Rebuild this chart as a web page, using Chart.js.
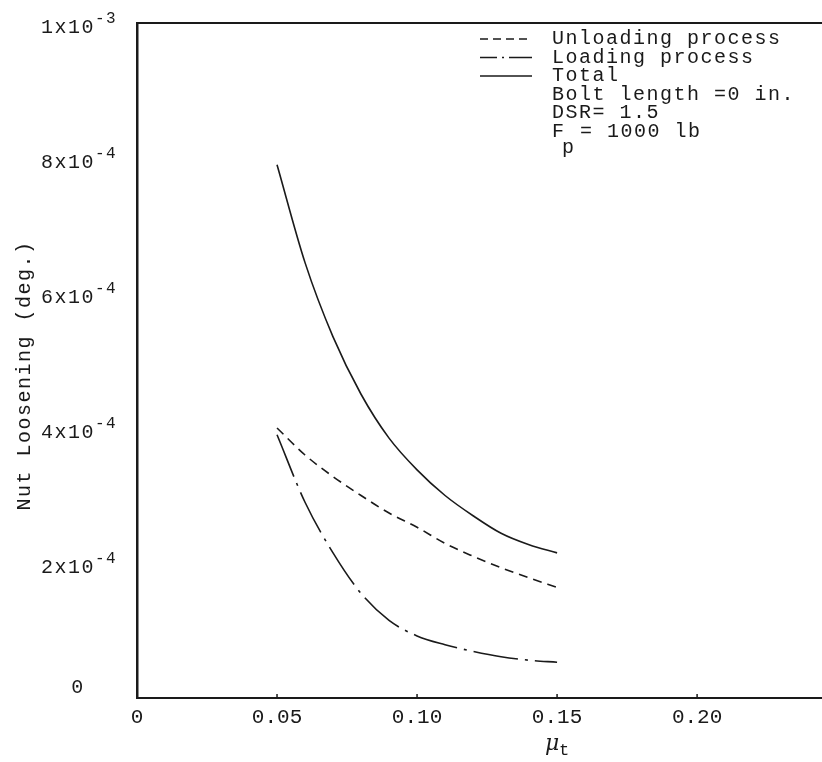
<!DOCTYPE html>
<html>
<head>
<meta charset="utf-8">
<script src="https://cdn.jsdelivr.net/npm/chart.js@4"></script>
<style>
  body { margin: 0; background: #fff; }
  canvas { display: block; }
</style>
</head>
<body>
<canvas id="myChart" width="822" height="762"></canvas>
<script>
// friction coefficient mu_t
const muValues = [0.05, 0.06, 0.07, 0.08, 0.09, 0.10, 0.11, 0.12, 0.13, 0.14, 0.15];
// nut loosening (deg.)
const unloading = [4.0e-4, 3.6e-4, 3.28e-4, 3.0e-4, 2.74e-4, 2.53e-4, 2.29e-4, 2.1e-4, 1.93e-4, 1.78e-4, 1.64e-4];
const loading = [3.9e-4, 2.9e-4, 2.15e-4, 1.55e-4, 1.15e-4, 0.92e-4, 0.79e-4, 0.69e-4, 0.61e-4, 0.56e-4, 0.53e-4];
const total = [7.9e-4, 6.45e-4, 5.35e-4, 4.5e-4, 3.85e-4, 3.38e-4, 3.0e-4, 2.7e-4, 2.44e-4, 2.27e-4, 2.15e-4];

const xTicks = [0, 0.05, 0.10, 0.15, 0.20];
const xTickLabels = ['0', '0.05', '0.10', '0.15', '0.20'];
const yTicks = [0, 2e-4, 4e-4, 6e-4, 8e-4, 1e-3];
const yTickBase = ['0', '2x10', '4x10', '6x10', '8x10', '1x10'];
const yTickExp = ['', '-4', '-4', '-4', '-4', '-3'];

const yTitle = 'Nut Loosening (deg.)';
const notes = ['Bolt length =0 in.', 'DSR= 1.5'];

const INK = '#1a1a1a';
const MONO = '"Liberation Mono", "DejaVu Sans Mono", monospace';

function pts(ys) {
    return muValues.map((m, i) => ({ x: m, y: ys[i] }));
}

// frame top, y tick labels with raised exponents, legend box, axis titles
const paperPlugin = {
    id: 'paper',
    afterDraw(chart) {
        const ctx = chart.ctx;
        const ys = chart.scales.y;
        const xs = chart.scales.x;
        const area = chart.chartArea;
        ctx.save();
        ctx.fillStyle = INK;
        ctx.strokeStyle = INK;
        ctx.letterSpacing = '1.5px';
        ctx.textBaseline = 'middle';
        ctx.textAlign = 'left';

        // top frame line
        ctx.lineWidth = 2;
        ctx.beginPath();
        ctx.moveTo(area.left, area.top);
        ctx.lineTo(area.right, area.top);
        ctx.stroke();

        // small inward ticks on x axis
        ctx.lineWidth = 1.5;
        xTicks.slice(1).forEach(v => {
            const px = xs.getPixelForValue(v);
            ctx.beginPath();
            ctx.moveTo(px, area.bottom);
            ctx.lineTo(px, area.bottom - 4);
            ctx.stroke();
        });

        // y tick labels
        yTicks.forEach((v, i) => {
            const py = ys.getPixelForValue(v);
            ctx.font = '20px ' + MONO;
            if (v === 0) {
                ctx.textAlign = 'center';
                ctx.fillText(yTickBase[i], 78, py - 10);
                ctx.textAlign = 'left';
                return;
            }
            const wb = ctx.measureText(yTickBase[i]).width;
            ctx.font = '16px ' + MONO;
            const we = ctx.measureText(yTickExp[i]).width;
            const x0 = 79 - (wb + we) / 2;
            ctx.font = '20px ' + MONO;
            ctx.fillText(yTickBase[i], x0, py + 5);
            ctx.font = '16px ' + MONO;
            ctx.fillText(yTickExp[i], x0 + wb, py - 4);
        });

        // y axis title
        ctx.save();
        ctx.font = '20px ' + MONO;
        ctx.translate(25, (area.top + area.bottom) / 2 + 15);
        ctx.rotate(-Math.PI / 2);
        ctx.textAlign = 'center';
        ctx.fillText(yTitle, 0, 0);
        ctx.restore();

        // legend
        ctx.font = '20px ' + MONO;
        const lx = 480, tx = 552;
        let ly = 39;
        chart.data.datasets.forEach(ds => {
            ctx.lineWidth = 1.5;
            ctx.setLineDash(ds.legendDash || []);
            ctx.beginPath();
            ctx.moveTo(lx, ly);
            ctx.lineTo(lx + 52, ly);
            ctx.stroke();
            ctx.setLineDash([]);
            ctx.fillText(ds.label, tx, ly);
            ly += 18.5;
        });
        notes.forEach(n => {
            ctx.fillText(n, tx, ly);
            ly += 18.5;
        });
        ctx.fillText('F', tx, ly);
        ctx.fillText('= 1000 lb', tx + 28, ly);
        ctx.fillText('p', tx + 10, ly + 16);

        // x axis title
        const mx = xs.getPixelForValue(0.15) - 12;
        ctx.letterSpacing = '0px';
        ctx.font = 'italic 22px "DejaVu Serif", serif';
        ctx.fillText('\u03bc', mx, 744);
        ctx.font = '17px ' + MONO;
        ctx.fillText('t', mx + 14, 750);
        ctx.restore();
    }
};

const ctx = document.getElementById('myChart').getContext('2d');
const myChart = new Chart(ctx, {
    type: 'line',
    data: {
        datasets: [
            {
                label: 'Unloading process',
                data: pts(unloading),
                borderColor: INK,
                borderWidth: 1.6,
                borderDash: [9, 6],
                legendDash: [8, 5],
                pointRadius: 0,
                cubicInterpolationMode: 'monotone'
            },
            {
                label: 'Loading process',
                data: pts(loading),
                borderColor: INK,
                borderWidth: 1.6,
                borderDash: [45, 7, 3, 7],
                legendDash: [17, 5, 2, 5, 30],
                pointRadius: 0,
                cubicInterpolationMode: 'monotone'
            },
            {
                label: 'Total',
                data: pts(total),
                borderColor: INK,
                borderWidth: 1.6,
                pointRadius: 0,
                cubicInterpolationMode: 'monotone'
            }
        ]
    },
    options: {
        responsive: false,
        animation: false,
        events: [],
        layout: { padding: { top: 23, right: 0, left: 0, bottom: 0 } },
        plugins: {
            legend: { display: false },
            tooltip: { enabled: false }
        },
        scales: {
            x: {
                type: 'linear',
                min: 0,
                max: 0.2446,
                afterBuildTicks: s => { s.ticks = xTicks.map(v => ({ value: v })); },
                afterFit: s => { s.height = 64; },
                grid: { display: false, drawTicks: false },
                border: { display: true, color: INK, width: 2 },
                ticks: {
                    color: INK,
                    padding: 7,
                    maxRotation: 0,
                    font: { family: MONO, size: 21 },
                    callback: (v, i) => xTickLabels[i]
                }
            },
            y: {
                type: 'linear',
                min: 0,
                max: 0.001,
                afterBuildTicks: s => { s.ticks = yTicks.map(v => ({ value: v })); },
                afterFit: s => { s.width = 137; },
                grid: { display: false, drawTicks: false },
                border: { display: true, color: INK, width: 2.5 },
                ticks: { display: false }
            }
        }
    },
    plugins: [paperPlugin]
});
</script>
</body>
</html>
